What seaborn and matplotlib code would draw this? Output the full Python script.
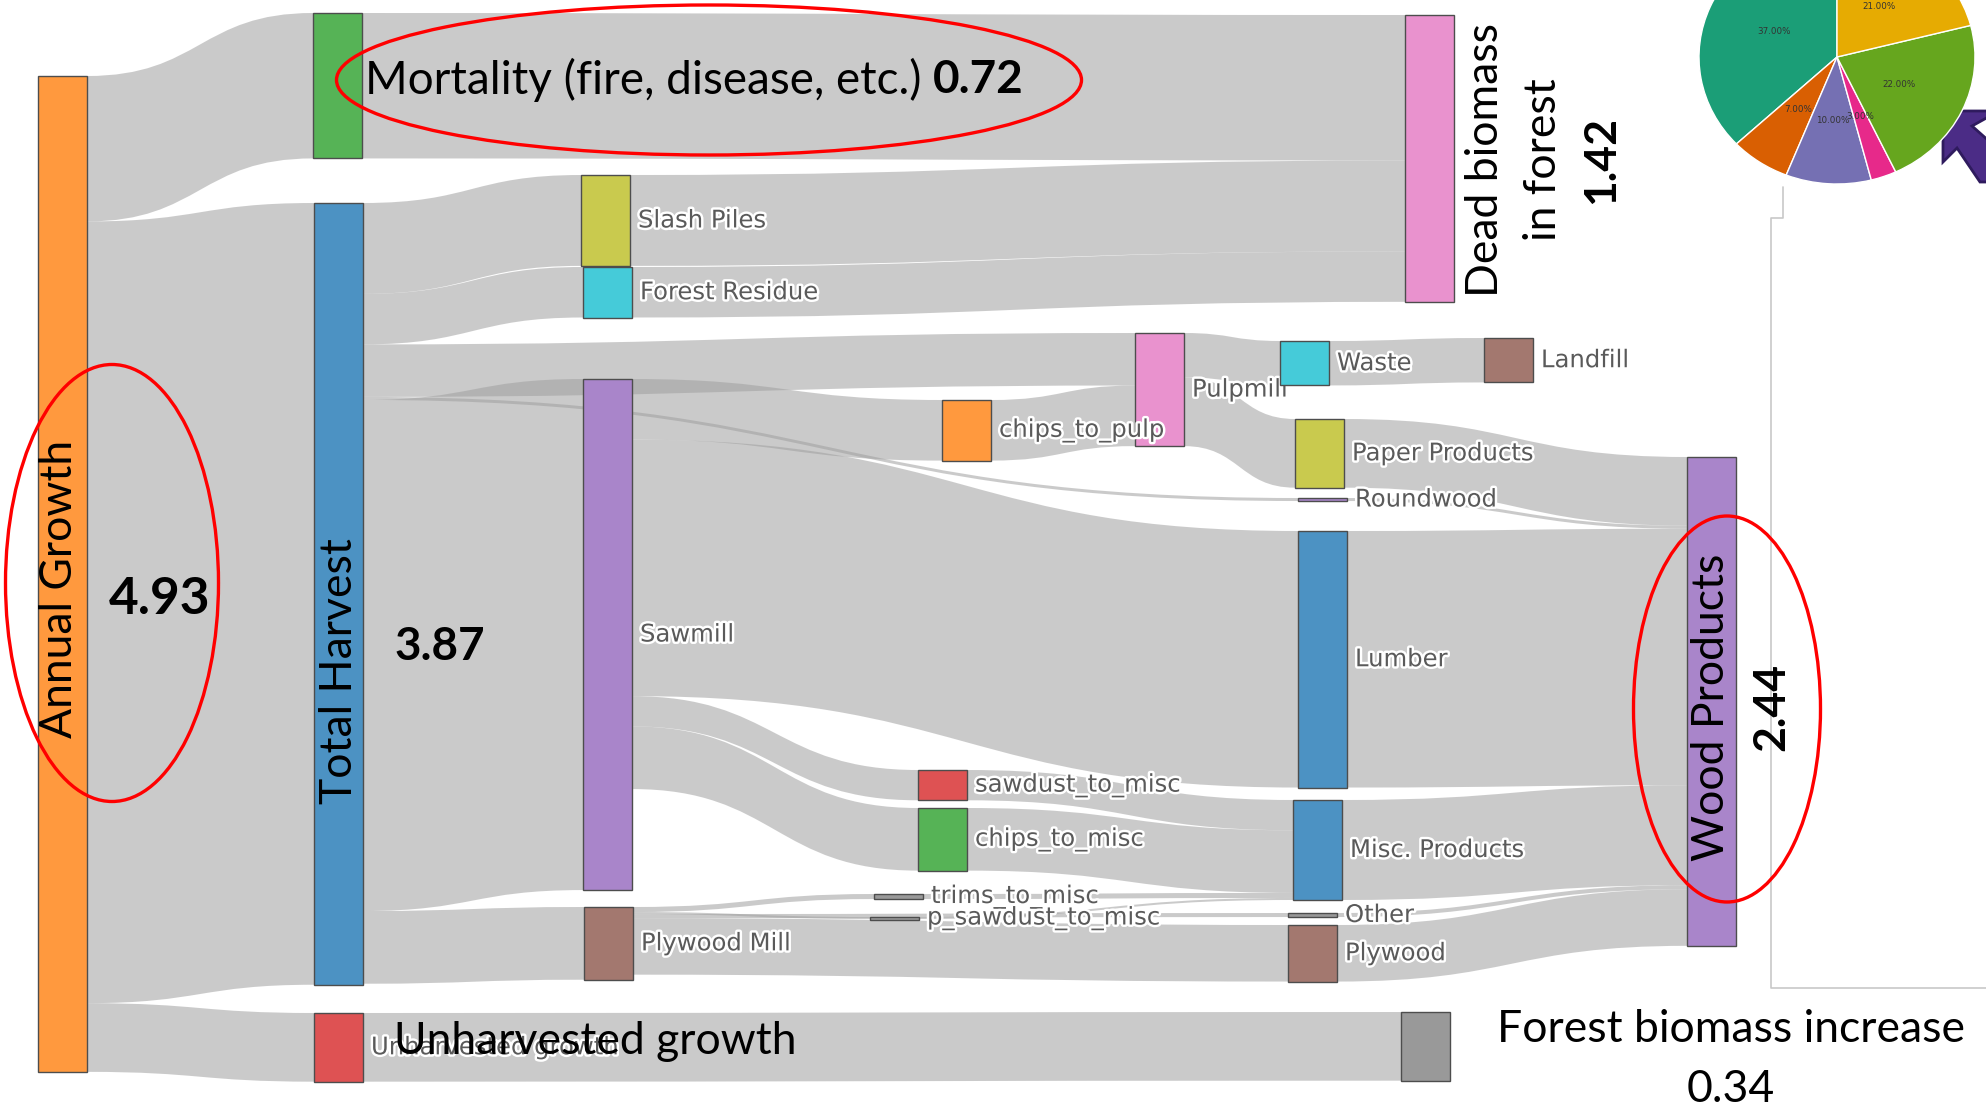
import matplotlib
matplotlib.use("Agg")
import matplotlib.pyplot as plt
import matplotlib.patheffects as pe
from matplotlib.path import Path
from matplotlib.patches import PathPatch, Rectangle, Ellipse, Polygon
import seaborn as sns

# ---- data -------------------------------------------------------------
nodes = ["Annual Growth", "Mortality", "Total Harvest", "Unharvested growth",
         "Slash Piles", "Forest Residue", "Sawmill", "Plywood Mill",
         "chips_to_pulp", "sawdust_to_misc", "chips_to_misc", "trims_to_misc",
         "p_sawdust_to_misc", "Pulpmill", "Dead biomass", "Waste", "Landfill",
         "Paper Products", "Roundwood", "Lumber", "Misc. Products", "Other",
         "Plywood", "Wood Products", "Forest biomass increase"]

link_source = ["Annual Growth", "Annual Growth", "Annual Growth",
               "Mortality",
               "Total Harvest", "Total Harvest", "Total Harvest", "Total Harvest",
               "Total Harvest", "Total Harvest",
               "Unharvested growth", "Slash Piles", "Forest Residue",
               "Sawmill", "Sawmill", "Sawmill", "Sawmill",
               "Plywood Mill", "Plywood Mill", "Plywood Mill", "Plywood Mill",
               "chips_to_pulp", "Pulpmill", "Pulpmill", "Waste",
               "sawdust_to_misc", "chips_to_misc", "trims_to_misc", "p_sawdust_to_misc",
               "Paper Products", "Roundwood", "Lumber", "Misc. Products", "Other", "Plywood"]
link_target = ["Mortality", "Total Harvest", "Unharvested growth",
               "Dead biomass",
               "Slash Piles", "Forest Residue", "Pulpmill", "Roundwood",
               "Sawmill", "Plywood Mill",
               "Forest biomass increase", "Dead biomass", "Dead biomass",
               "chips_to_pulp", "Lumber", "sawdust_to_misc", "chips_to_misc",
               "trims_to_misc", "p_sawdust_to_misc", "Other", "Plywood",
               "Pulpmill", "Waste", "Paper Products", "Landfill",
               "Misc. Products", "Misc. Products", "Misc. Products", "Misc. Products",
               "Wood Products", "Wood Products", "Wood Products", "Wood Products",
               "Wood Products", "Wood Products"]
link_value = [0.72, 3.87, 0.34,
              0.72,
              0.45, 0.25, 0.26, 0.015, 2.53, 0.36,
              0.34, 0.45, 0.25,
              0.30, 1.27, 0.15, 0.31,
              0.025, 0.01, 0.02, 0.28,
              0.30, 0.22, 0.34, 0.22,
              0.15, 0.31, 0.025, 0.01,
              0.34, 0.015, 1.27, 0.495, 0.02, 0.28]

annual_growth = "4.93"
total_harvest = "3.87"
mortality = "0.72"
dead_biomass = "1.42"
wood_products = "2.44"
biomass_increase = "0.34"

pie_share = [37, 7, 10, 3, 22, 21]

# ---- layout (pixel space of the 1986x1117 canvas) -------------------------
node_left = {"Annual Growth": 38, "Mortality": 313, "Total Harvest": 314,
             "Unharvested growth": 314, "Slash Piles": 581, "Forest Residue": 583,
             "Sawmill": 583, "Plywood Mill": 584, "chips_to_pulp": 942,
             "sawdust_to_misc": 918, "chips_to_misc": 918, "trims_to_misc": 874,
             "p_sawdust_to_misc": 870, "Pulpmill": 1135, "Dead biomass": 1405,
             "Waste": 1280, "Landfill": 1484, "Paper Products": 1295,
             "Roundwood": 1298, "Lumber": 1298, "Misc. Products": 1293,
             "Other": 1288, "Plywood": 1288, "Wood Products": 1687,
             "Forest biomass increase": 1401}
node_top = {"Annual Growth": 76, "Mortality": 13, "Total Harvest": 203,
            "Unharvested growth": 1013, "Slash Piles": 175, "Forest Residue": 267,
            "Sawmill": 379, "Plywood Mill": 907, "chips_to_pulp": 400,
            "sawdust_to_misc": 770, "chips_to_misc": 808, "trims_to_misc": 894,
            "p_sawdust_to_misc": 917, "Pulpmill": 333, "Dead biomass": 15,
            "Waste": 341, "Landfill": 338, "Paper Products": 419,
            "Roundwood": 498, "Lumber": 531, "Misc. Products": 800,
            "Other": 913, "Plywood": 925, "Wood Products": 457,
            "Forest biomass increase": 1012}
# plotly default colour index per node
node_color_idx = [1, 2, 0, 3, 8, 9, 4, 5, 1, 3, 2, 7, 7, 6, 6, 9, 5, 8, 4, 0, 0, 7, 5, 4, 7]
no_small_label = {"Annual Growth", "Mortality", "Total Harvest", "Dead biomass",
                  "Wood Products", "Forest biomass increase"}

PX = 202.0   # pixels per unit of biomass
NW = 49      # node width

sns.set_theme(style="white")
plt.rcParams['font.family'] = ['Lato', 'DejaVu Sans']
plt.rcParams['text.color'] = 'black'

fig = plt.figure(figsize=(19.86, 11.17), dpi=100)
ax = fig.add_axes([0, 0, 1, 1])
ax.set_xlim(0, 1986)
ax.set_ylim(1117, 0)
ax.axis("off")

tab = sns.color_palette("tab10")
node_colors = {n: tuple(0.8 * c + 0.2 for c in tab[i]) for n, i in zip(nodes, node_color_idx)}

inflow = {n: 0.0 for n in nodes}
outflow = {n: 0.0 for n in nodes}
for s, t, v in zip(link_source, link_target, link_value):
    outflow[s] += v
    inflow[t] += v
node_h = {n: max(inflow[n], outflow[n]) * PX for n in nodes}

# ---- links --------------------------------------------------------------
out_off = {n: 0.0 for n in nodes}
in_off = {n: 0.0 for n in nodes}
for s, t, v in zip(link_source, link_target, link_value):
    h = v * PX
    x0 = node_left[s] + NW
    y0 = node_top[s] + out_off[s]
    x1 = node_left[t]
    y1 = node_top[t] + in_off[t]
    out_off[s] += h
    in_off[t] += h
    xm = (x0 + x1) / 2
    verts = [(x0, y0), (xm, y0), (xm, y1), (x1, y1),
             (x1, y1 + h), (xm, y1 + h), (xm, y0 + h), (x0, y0 + h), (x0, y0)]
    codes = [Path.MOVETO, Path.CURVE4, Path.CURVE4, Path.CURVE4,
             Path.LINETO, Path.CURVE4, Path.CURVE4, Path.CURVE4, Path.CLOSEPOLY]
    ax.add_patch(PathPatch(Path(verts, codes), facecolor="#a0a0a0", alpha=0.55,
                           edgecolor="none", zorder=1))

# ---- nodes + plotly style labels ----------------------------------------
glow = [pe.withStroke(linewidth=3.5, foreground="white")]
for n in nodes:
    h = max(node_h[n], 2.5)
    ax.add_patch(Rectangle((node_left[n], node_top[n]), NW, h, facecolor=node_colors[n],
                           edgecolor="#4d4d4d", linewidth=1.0, zorder=3))
    if n not in no_small_label:
        # the Waste box sits on top of the Pulpmill label in the original
        z = 2.5 if n == "Pulpmill" else 3.5
        ax.text(node_left[n] + NW + 8, node_top[n] + node_h[n] / 2, n,
                family="DejaVu Sans", fontsize=17.5, color="#5a5a5a", va="center",
                ha="left", path_effects=glow, zorder=z)

# ---- overlay annotations ------------------------------------------------
big = 32
t1 = ax.text(365, 80, "Mortality (fire, disease, etc.) ", fontsize=33, va="center",
             ha="left", color="black", zorder=5)
fig.canvas.draw()
bb = t1.get_window_extent(renderer=fig.canvas.get_renderer())
x_end = ax.transData.inverted().transform((bb.x1, bb.y0))[0]
ax.text(x_end, 80, mortality, fontsize=33, fontweight="bold", va="center", ha="left",
        color="black", zorder=5)

ax.text(60, 589, "Annual Growth", fontsize=big, rotation=90, va="center", ha="center",
        color="black", zorder=5)
ax.text(160, 600, annual_growth, fontsize=37, fontweight="bold", va="center", ha="center",
        color="black", zorder=5)
ax.text(339, 671, "Total Harvest", fontsize=big, rotation=90, va="center", ha="center",
        color="black", zorder=5)
ax.text(440, 647, total_harvest, fontsize=33, fontweight="bold", va="center", ha="center",
        color="black", zorder=5)
ax.text(394, 1042, "Unharvested growth", fontsize=big, va="center", ha="left",
        color="black", zorder=5)
ax.text(1486, 160, "Dead biomass", fontsize=big, rotation=90, va="center", ha="center",
        color="black", zorder=5)
ax.text(1544, 160, "in forest", fontsize=big, rotation=90, va="center", ha="center",
        color="black", zorder=5)
ax.text(1601, 160, dead_biomass, fontsize=32, fontweight="bold", rotation=90,
        va="center", ha="center", color="black", zorder=5)
ax.text(1712, 707, "Wood Products", fontsize=big, rotation=90, va="center", ha="center",
        color="black", zorder=5)
ax.text(1771, 707, wood_products, fontsize=32, fontweight="bold", rotation=90,
        va="center", ha="center", color="black", zorder=5)
ax.text(1731, 1030, "Forest biomass increase", fontsize=big, va="center", ha="center",
        color="black", zorder=5)
ax.text(1731, 1089, biomass_increase, fontsize=big, va="center", ha="center",
        color="black", zorder=5)

# red highlight ellipses
for cx, cy, w, h in [(709, 80, 745, 150), (112, 583, 213, 437), (1727, 709, 187, 386)]:
    ax.add_patch(Ellipse((cx, cy), w, h, facecolor="none", edgecolor="red",
                         linewidth=2.4, zorder=6))

# grey frame line of the pasted panel
ax.plot([1783, 1783, 1771, 1771, 1986], [187, 218, 218, 988, 988], color="#c8c8c8",
        linewidth=1.2, zorder=2)

# purple arrow cut off at the right edge
ax.add_patch(Polygon([(1943, 111), (1990, 111), (1990, 116), (1972, 126), (1990, 142),
                      (1990, 182), (1980, 182), (1957, 148), (1943, 162)],
                     closed=True, facecolor="#4b2c86", edgecolor="#2f1b5e",
                     linewidth=2, zorder=4))

# ---- pie inset ----------------------------------------------------------
cx, cy, rx, ry = 1837, 57, 138, 127
pax = fig.add_axes([(cx - rx) / 1986, 1 - (cy + ry) / 1117, 2 * rx / 1986, 2 * ry / 1117])
pax.pie(pie_share, colors=sns.color_palette("Dark2", 6), startangle=90,
        autopct="%1.2f%%", pctdistance=0.5,
        textprops={"fontsize": 6.3, "color": "#333333", "family": "DejaVu Sans"})
pax.set_aspect("auto")
pax.set_xlim(-1, 1)
pax.set_ylim(-1, 1)
pax.axis("off")

fig.savefig("out.png", dpi=100)
